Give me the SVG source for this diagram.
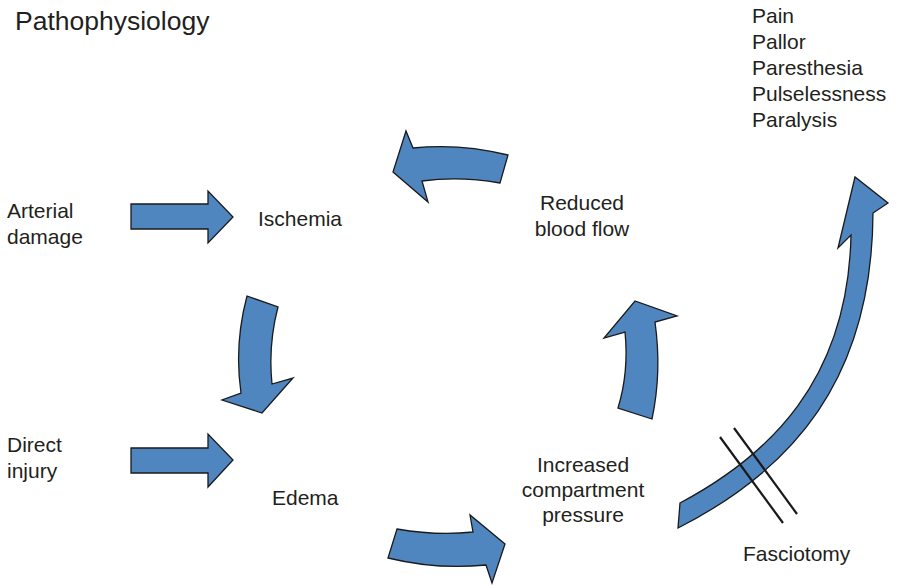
<svg xmlns="http://www.w3.org/2000/svg" width="898" height="585" viewBox="0 0 898 585">
  <style>
    text { font-family: "Liberation Sans", Arial, sans-serif; font-size: 21px; fill: #231f20; }
    .title { font-size: 26.5px; }
    .mid { text-anchor: middle; }
    .arrow { fill: #4f86c0; stroke: #1a1a1a; stroke-width: 1.3; stroke-linejoin: miter; }
    .cut { stroke: #1a1a1a; stroke-width: 2.2; fill: none; }
  </style>
  <rect width="898" height="585" fill="#ffffff"/>

  <text class="title" x="15" y="30">Pathophysiology</text>

  <g id="signs">
    <text x="752" y="23">Pain</text>
    <text x="752" y="49">Pallor</text>
    <text x="752" y="75">Paresthesia</text>
    <text x="752" y="101">Pulselessness</text>
    <text x="752" y="127">Paralysis</text>
  </g>

  <g id="arterial-damage">
    <text x="7" y="218">Arterial</text>
    <text x="7" y="244">damage</text>
  </g>
  <g id="ischemia">
    <text x="258" y="226">Ischemia</text>
  </g>
  <g id="reduced-blood-flow">
    <text class="mid" x="582" y="210">Reduced</text>
    <text class="mid" x="582" y="236">blood flow</text>
  </g>
  <g id="direct-injury">
    <text x="7" y="452">Direct</text>
    <text x="7" y="478">injury</text>
  </g>
  <g id="edema">
    <text x="272" y="505">Edema</text>
  </g>
  <g id="compartment-pressure">
    <text class="mid" x="583" y="472">Increased</text>
    <text class="mid" x="583" y="497">compartment</text>
    <text class="mid" x="583" y="522">pressure</text>
  </g>
  <g id="fasciotomy">
    <text x="743" y="561">Fasciotomy</text>
  </g>

  <g id="connectors">
    <!-- straight block arrows into Ischemia and Edema -->
    <path class="arrow" d="M131,204 H208 V191 L233,217 L208,243 V229 H131 Z"/>
    <path class="arrow" d="M131,448 H208 V434 L233,460 L208,487 V473 H131 Z"/>

    <!-- Ischemia down to Edema -->
    <path class="arrow" d="M247,296 Q234,345 241,393 L222,400 L262,413 L293,378 L272,384 Q268,345 278,307 Z"/>

    <!-- Edema to compartment pressure -->
    <path class="arrow" d="M397,529 Q437,536 473,532 L470,515 L505,544 L492,583 L486,565 Q437,570 388,558 Z"/>

    <!-- compartment pressure up to reduced flow -->
    <path class="arrow" d="M618,408 Q629,372 625,332 L604,338 L635,301 L677,316 L655,322 Q662,372 652,419 Z"/>

    <!-- reduced flow back to Ischemia -->
    <path class="arrow" d="M508,155 Q460,143 413,148 L406,131 L393,172 L428,202 L422,181 Q460,176 500,183 Z"/>

    <!-- compartment pressure out to the clinical signs -->
    <path class="arrow" d="M680,503 C770,455 848,380 851,235 L838,248 L855,177 L888,203 L873,213 C872,380 792,470 678,528 Z"/>

    <!-- fasciotomy cut marks -->
    <line class="cut" x1="720" y1="437" x2="783" y2="523"/>
    <line class="cut" x1="734" y1="428" x2="797" y2="514"/>
  </g>
</svg>
